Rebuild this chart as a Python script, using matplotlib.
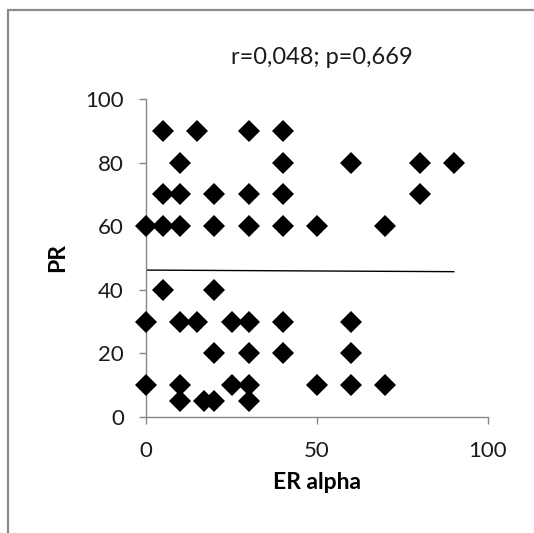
"""
scatter of PR against ER alpha, with a linear trend line
"""

import matplotlib.pyplot as plt
from matplotlib.patches import Rectangle

# data
er_alpha = [5, 15, 30, 40,
            10, 40, 60, 80, 90,
            5, 10, 20, 30, 40, 80,
            0, 5, 10, 20, 30, 40, 50, 70,
            5, 20,
            0, 10, 15, 25, 30, 40, 60,
            20, 30, 40, 60,
            0, 10, 25, 30, 50, 60, 70,
            10, 17, 20, 30]
pr = [90, 90, 90, 90,
      80, 80, 80, 80, 80,
      70, 70, 70, 70, 70, 70,
      60, 60, 60, 60, 60, 60, 60, 60,
      40, 40,
      30, 30, 30, 30, 30, 30, 30,
      20, 20, 20, 20,
      10, 10, 10, 10, 10, 10, 10,
      5, 5, 5, 5]

# trend line end points
trend_x = [0, 90]
trend_y = [46.2, 45.7]

stats_text = 'r=0,048; p=0,669'
x_ticks = [0, 50, 100]
y_ticks = [0, 20, 40, 60, 80, 100]

plt.rcParams['font.family'] = ['Lato', 'DejaVu Sans']
ftsize = 16
grey = '#868686'

W, H = 534, 533
fig = plt.figure(figsize=(W / 100, H / 100), dpi=100)
ax = fig.add_axes([146 / W, 1 - 417 / H, (488 - 146) / W, (417 - 99) / H])

ax.plot(er_alpha, pr, linestyle='none', marker='D', markersize=11.2,
        color='k', markeredgewidth=0, clip_on=False, zorder=3)
ax.plot(trend_x, trend_y, color='k', lw=1.0, zorder=2)

ax.set_xlim(0, 100)
ax.set_ylim(0, 100)
ax.set_xticks(x_ticks)
ax.set_yticks(y_ticks)

for side in ['top', 'right']:
    ax.spines[side].set_visible(False)
for side in ['left', 'bottom']:
    ax.spines[side].set_color(grey)
    ax.spines[side].set_linewidth(1.0)
ax.tick_params(direction='out', length=5, width=1.0, color=grey,
               labelsize=ftsize, labelcolor='#1a1a1a')
ax.tick_params(axis='y', pad=11)
ax.tick_params(axis='x', pad=12)

ax.set_xlabel('ER alpha', fontsize=ftsize + 0.5, fontweight='bold',
              labelpad=8)
ax.set_ylabel('PR', fontsize=ftsize + 0.5, fontweight='bold', labelpad=12)

fig.text(322 / W, 1 - 58 / H, stats_text, fontsize=17,
         ha='center', va='center', color='#1a1a1a')

# outer frame, running past the right and bottom edges
fig.add_artist(Rectangle((7.5 / W, -0.2), 1.5, 1 - 9.5 / H + 0.2,
                         transform=fig.transFigure, fill=False,
                         edgecolor='#8c8c8c', lw=1.6))

plt.savefig('out.png', dpi=100)
